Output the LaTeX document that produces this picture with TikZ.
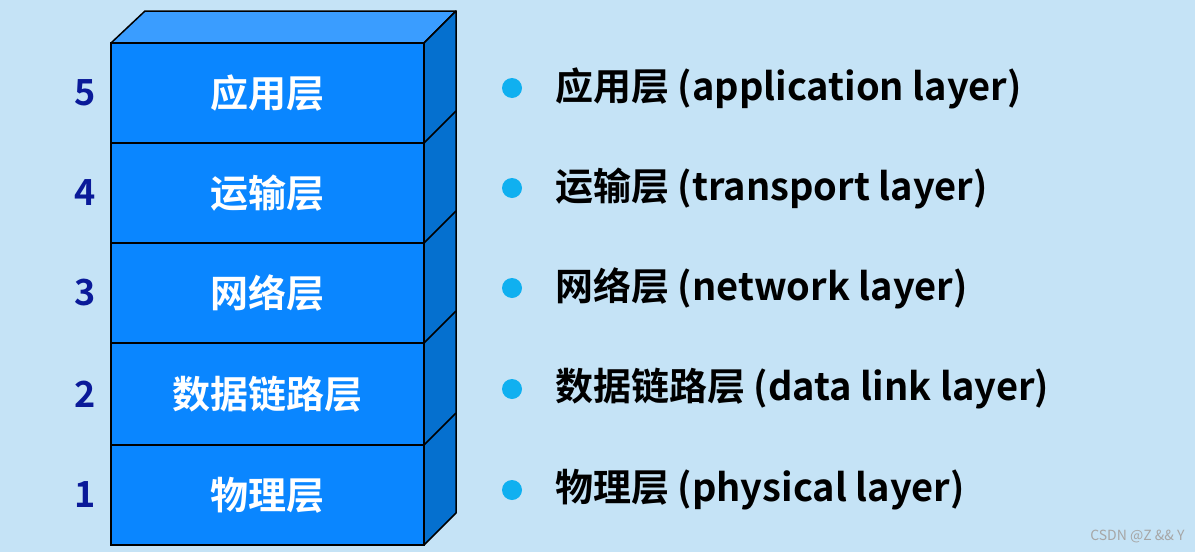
\documentclass[tikz,border=0pt]{standalone}
\usepackage{fontspec}
\setmainfont{Noto Sans CJK SC}[BoldFont={* Bold}]
\definecolor{bgblue}{HTML}{C5E3F6}
\definecolor{frontblue}{HTML}{0A86FF}
\definecolor{topblue}{HTML}{3A9DFF}
\definecolor{sideblue}{HTML}{0570CF}
\definecolor{numblue}{HTML}{0A1A99}
\definecolor{dotblue}{HTML}{10B0F0}
\tikzset{
  layer/.style={draw=black, line width=1.5pt, fill=frontblue},
  face/.style={draw=black, line width=1.5pt, line join=round},
  lname/.style={text=white, font=\bfseries\fontsize{38}{38}\selectfont},
  lnum/.style={text=numblue, font=\bfseries\fontsize{36}{36}\selectfont},
  ldesc/.style={anchor=west, inner sep=0pt, font=\bfseries\fontsize{38}{38}\selectfont},
  ldot/.style={circle, fill=dotblue, inner sep=0pt, minimum size=20pt}
}
\begin{document}
\begin{tikzpicture}[x=1pt,y=-1pt]
		% background
		\fill[bgblue] (0,0) rectangle (1195,552);
		\useasboundingbox (0,0) rectangle (1195,552);
		% top and side faces
		\draw[face, fill=topblue] (111,43) -- (145,11) -- (456,11) -- (424,43) -- cycle;
		\draw[face, fill=sideblue] (424,43) -- (456,11) -- (456,513) -- (424,545) -- cycle;
		\foreach \y in {143,243,343,445}
			\draw[black, line width=1.5pt] (424,\y) -- (456,\y-32);
		% layers
		\foreach \i/\top/\bot/\cn/\en in {
			5/43/143/应用层/application layer,
			4/143/243/运输层/transport layer,
			3/243/343/网络层/network layer,
			2/343/445/数据链路层/data link layer,
			1/445/545/物理层/physical layer} {
			\draw[layer] (111,\top) rectangle (424,\bot);
			\node[lname] (l\i) at (267.5,{(\top+\bot)/2}) {\cn};
			\node[lnum] (n\i) at (85,{(\top+\bot)/2}) {\i};
			\node[ldot] (d\i) at (512,{(\top+\bot)/2-5}) {};
			\node[ldesc] (t\i) at (555,{(\top+\bot)/2-5}) {\cn\ (\en)};
		}
		% watermark
		\node[anchor=south east, text=gray!70, font=\fontsize{14}{14}\selectfont] (wm) at (1188,546) {CSDN @Z \&\& Y};
\end{tikzpicture}
\end{document}
